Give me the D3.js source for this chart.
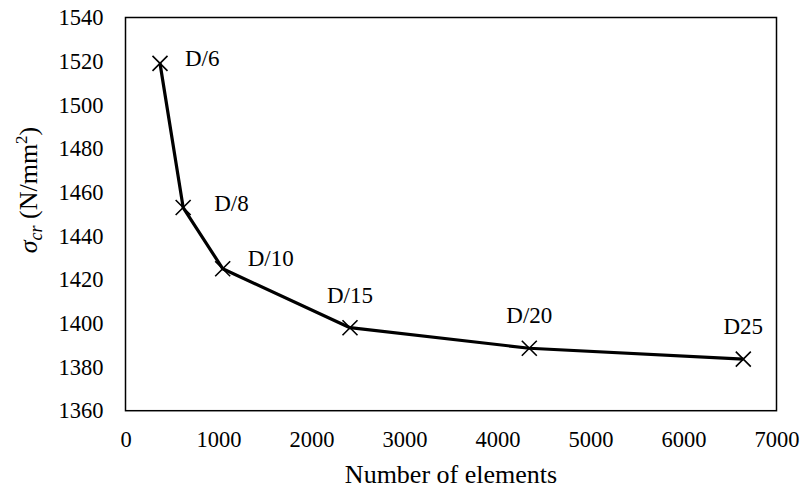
<!DOCTYPE html>
<html><head><meta charset="utf-8">
<script src="https://cdn.jsdelivr.net/npm/d3@7"></script>
<style>body{margin:0;background:#fff}svg{display:block}
svg text{font-family:"Liberation Serif","Times New Roman",serif;}</style>
</head><body>
<script>
const labels = ["D/6","D/8","D/10","D/15","D/20","D25"];
const elements = [371, 620, 1045, 2414, 4342, 6643];
const sigma = [1519, 1453, 1425, 1398, 1388.6, 1383.6];
const xTicks = [0,1000,2000,3000,4000,5000,6000,7000];
const yTicks = [1360,1380,1400,1420,1440,1460,1480,1500,1520,1540];

const W=803,H=488;
const m={l:125.5,t:17.5,r:803-776.5,b:488-410.7};
const svg=d3.select("body").append("svg").attr("width",W).attr("height",H);
const x=d3.scaleLinear().domain([0,7000]).range([m.l,W-m.r]);
const y=d3.scaleLinear().domain([1360,1540]).range([H-m.b,m.t]);

const gx=svg.append("g").attr("transform",`translate(0,${H-m.b})`)
  .call(d3.axisBottom(x).tickValues(xTicks).tickSize(0).tickPadding(0).tickFormat(d3.format("d")));
const gy=svg.append("g").attr("transform",`translate(${m.l},0)`)
  .call(d3.axisLeft(y).tickValues(yTicks).tickSize(0).tickPadding(22).tickFormat(d3.format("d")));
[gx,gy].forEach(g=>{g.select(".domain").remove();g.attr("font-family",null);
  g.selectAll("text").attr("font-size",22.5).attr("fill","#000");});
gx.selectAll("text").attr("y",36).attr("dy",0);

svg.append("rect").attr("x",m.l).attr("y",m.t).attr("width",W-m.r-m.l).attr("height",H-m.b-m.t)
  .attr("fill","none").attr("stroke","#000").attr("stroke-width",1.5);

const pts=elements.map((e,i)=>({x:e,y:sigma[i],l:labels[i],i}));
svg.append("path").datum(pts).attr("fill","none").attr("stroke","#000").attr("stroke-width",3.2)
  .attr("stroke-linejoin","round")
  .attr("d",d3.line().x(d=>x(d.x)).y(d=>y(d.y)));
const s=7.5;
svg.selectAll(".mk").data(pts).enter().append("path")
  .attr("d",d=>{const cx=x(d.x),cy=y(d.y);return `M${cx-s},${cy-s}L${cx+s},${cy+s}M${cx-s},${cy+s}L${cx+s},${cy-s}`;})
  .attr("stroke","#000").attr("stroke-width",1.6);

svg.selectAll(".lb").data(pts).enter().append("text")
  .attr("font-size",23).attr("fill","#000")
  .attr("x",d=>x(d.x)+(d.i<3?(d.i===1?31:25):0))
  .attr("y",d=>y(d.y)+(d.i<3?(d.i===2?-3:3):-25))
  .attr("text-anchor",d=>d.i<3?"start":"middle")
  .text(d=>d.l);

svg.append("text").attr("x",(m.l+W-m.r)/2).attr("y",483).attr("text-anchor","middle")
  .attr("font-size",26).text("Number of elements");

const yt=svg.append("text").attr("transform","translate(37,190) rotate(-90)").attr("text-anchor","middle")
  .attr("font-size",26);
yt.append("tspan").attr("font-style","italic").text("σ");
yt.append("tspan").attr("font-style","italic").attr("font-size",18).attr("dy",5).text("cr");
yt.append("tspan").attr("dy",-5).text(" (N/mm");
yt.append("tspan").attr("font-size",17).attr("dy",-10).text("2");
yt.append("tspan").attr("dy",10).text(")");
</script>
</body></html>
